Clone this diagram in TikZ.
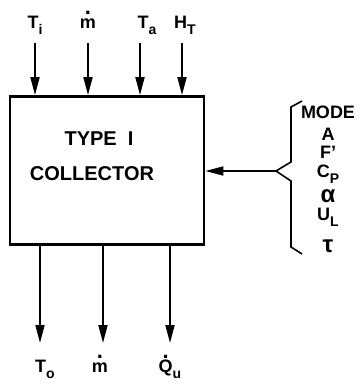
\documentclass[tikz,border=0pt]{standalone}
\usepackage{fontspec}
\setmainfont{Liberation Sans}
\usetikzlibrary{arrows.meta,positioning}
\newcommand\sub[1]{\raisebox{-6pt}{\fontsize{14}{14}\selectfont #1}}
\newcommand\dt[1]{\ooalign{#1\cr\hfil\raisebox{14pt}{\fontsize{22}{22}\selectfont.}\hfil\cr}}

\begin{document}
\begin{tikzpicture}[
  x=1pt, y=-1pt,
  lbl/.style={font=\fontsize{18}{20}\selectfont\bfseries, inner sep=0pt, anchor=base},
  ttl/.style={font=\fontsize{20}{22}\selectfont\bfseries, inner sep=0pt, anchor=base},
  box/.style={draw, line width=2.8pt, minimum width=194pt, minimum height=148pt, inner sep=0pt},
  arr/.style={-{Triangle[length=18pt,width=9pt]}, line width=1.8pt},
  brc/.style={line width=1.6pt}
]
\useasboundingbox (0,0) rectangle (359,388);

% collector block
\node[box] (coll) at (107,170.5) {};
\node[ttl] (ttl1) at (99,145) {TYPE\ \ I};
\node[ttl] (ttl2) at (92,180) {COLLECTOR};

% inputs on top
\foreach \nm/\x/\txt/\dx in {ti/35/T\sub{i}/0, mi/88/\dt{m}/0, ta/140/T\sub{a}/7, ht/182/H\sub{T}/3} {
  \coordinate (\nm) at (\x,43);
  \node[lbl] (\nm lbl) at (\x+\dx,28) {\txt};
  \draw[arr] (\nm) -- (\nm |- coll.north);
}

% outputs below
\foreach \nm/\x/\txt/\dx in {tout/40/T\sub{o}/5, mout/103/\dt{m}/-3, qout/170/\dt{Q}\sub{u}/0} {
  \coordinate (\nm) at (\x,343);
  \node[lbl] (\nm lbl) at (\x+\dx,372) {\txt};
  \draw[arr] (\nm |- coll.south) -- (\nm);
}

% parameters
\coordinate (tip) at (276,171);
\draw[brc] (302,101) -- (291,107) -- (291,162) -- (tip) -- (291,181) -- (291,247) -- (302,254);
\draw[arr] (tip) -- (tip -| coll.east);
\foreach \nm/\y/\txt in {mode/118/MODE, par/140/A, fp/158/F', cp/177/C\sub{P}, alp/202/{\fontsize{24}{24}\selectfont α}, ul/220/U\sub{L}, tau/252/{\fontsize{24}{24}\selectfont τ}}
  \node[lbl] (\nm) at (328,\y) {\txt};
\end{tikzpicture}
\end{document}
